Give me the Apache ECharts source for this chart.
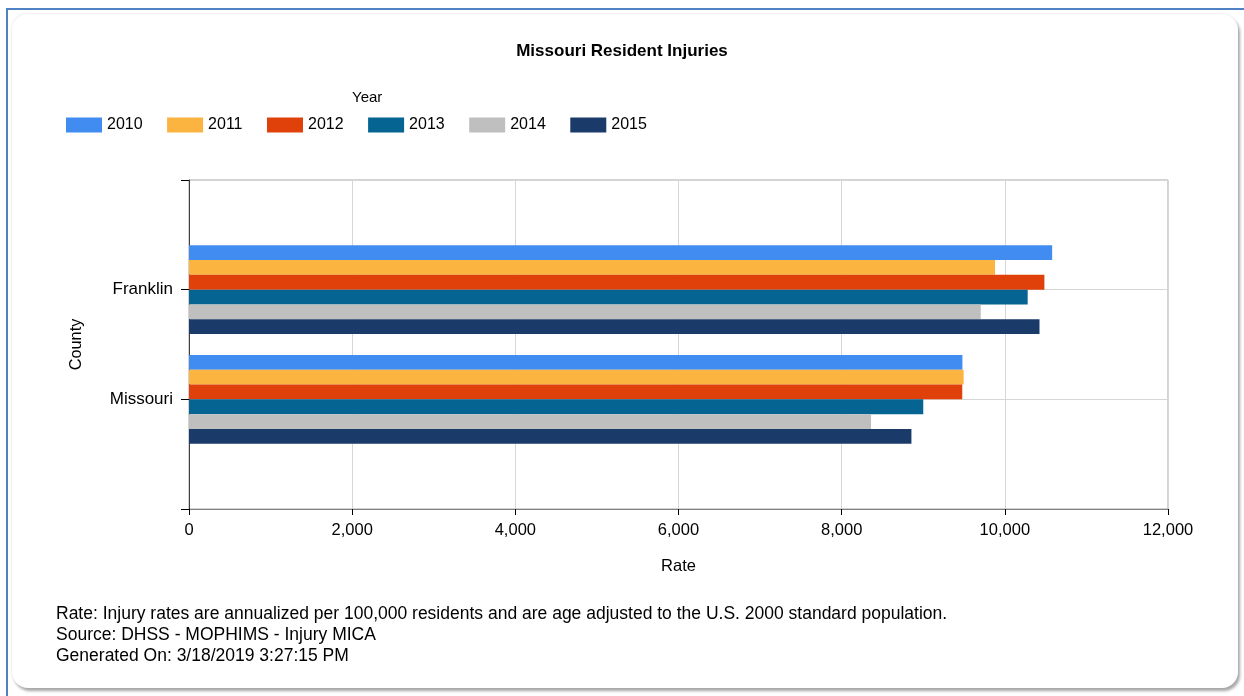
<!DOCTYPE html>
<html>
<head>
<meta charset="utf-8">
<script src="https://cdn.jsdelivr.net/npm/echarts@6/dist/echarts.min.js"></script>
<style>
  html, body { margin: 0; padding: 0; background: #fff; }
  #wrap { position: relative; width: 1244px; height: 696px; overflow: hidden; }
  /* blue page frame */
  #frame { position: absolute; left: 6px; top: 8px; right: -4px; bottom: -4px;
           border-top: 2px solid #4f81c4; border-left: 2px solid #4f81c4; }
  /* rounded white panel with soft shadow */
  #panel { position: absolute; left: 12px; top: 14px; width: 1226px; height: 674px;
           background: #fff; border-radius: 16px;
           box-shadow: 2px 3px 3px rgba(0,0,0,0.35), -1px -1px 2px rgba(0,0,0,0.06); }
  #chart { position: absolute; left: 0; top: 0; width: 1244px; height: 696px; }
</style>
</head>
<body>
<div id="wrap">
  <div id="frame"></div>
  <div id="panel"></div>
  <div id="chart"></div>
</div>
<script>
// Injury rates per 100,000 residents, age adjusted
const counties = ['Franklin', 'Missouri'];
const years = ['2010', '2011', '2012', '2013', '2014', '2015'];
const rate2010 = [10580, 9480];
const rate2011 = [9880, 9495];
const rate2012 = [10485, 9478];
const rate2013 = [10280, 9000];
const rate2014 = [9705, 8360];
const rate2015 = [10425, 8855];
const xTicks = [0, 2000, 4000, 6000, 8000, 10000, 12000];
const footnotes = [
  'Rate: Injury rates are annualized per 100,000 residents and are age adjusted to the U.S. 2000 standard population.',
  'Source: DHSS - MOPHIMS - Injury MICA',
  'Generated On: 3/18/2019 3:27:15 PM'
];

const colors = ['#418CF0', '#FCB441', '#E0400A', '#056492', '#BFBFBF', '#1A3B69'];
const seriesValues = [rate2010, rate2011, rate2012, rate2013, rate2014, rate2015];
const FONT = '"Liberation Sans", Arial, sans-serif';

// empty slots at both ends keep the counties on the inner ticks
const yCats = [''].concat(counties, ['']);

const chart = echarts.init(document.getElementById('chart'), null, { renderer: 'canvas' });

chart.setOption({
  animation: false,
  backgroundColor: 'transparent',
  color: colors,
  title: [
    { text: 'Missouri Resident Injuries', left: 'center', top: 43, padding: 0,
      textStyle: { fontFamily: FONT, fontSize: 17, fontWeight: 'bold', color: '#000' } },
    { text: 'Year', left: 352, top: 90, padding: 0,
      textStyle: { fontFamily: FONT, fontSize: 15, fontWeight: 'normal', color: '#000' } }
  ],
  legend: {
    left: 66, top: 117, padding: 0,
    itemWidth: 36, itemHeight: 15, itemGap: 24.5,
    icon: 'rect',
    data: years,
    textStyle: { fontFamily: FONT, fontSize: 16, color: '#000' }
  },
  grid: { left: 189, right: 76, top: 180, bottom: 187, show: true,
          borderColor: '#a6a6a6', borderWidth: 1, containLabel: false },
  xAxis: {
    type: 'value', min: xTicks[0], max: xTicks[xTicks.length - 1], interval: xTicks[1] - xTicks[0],
    name: 'Rate', nameLocation: 'middle', nameGap: 49,
    nameTextStyle: { fontFamily: FONT, fontSize: 16.5, color: '#000' },
    axisLine: { show: true, lineStyle: { color: '#808080', width: 1 } },
    axisTick: { show: true, length: 6, lineStyle: { color: '#000' } },
    axisLabel: { fontFamily: FONT, fontSize: 16.5, color: '#000', margin: 13,
                 formatter: v => v.toLocaleString('en-US') },
    splitLine: { show: true, lineStyle: { color: '#d6d6d6', width: 1 } }
  },
  yAxis: {
    type: 'category', data: yCats, inverse: true, boundaryGap: false,
    name: 'County', nameLocation: 'middle', nameGap: 104, nameRotate: 90,
    nameTextStyle: { fontFamily: FONT, fontSize: 16.3, color: '#000' },
    axisLine: { show: true, lineStyle: { color: '#404040', width: 1 } },
    axisTick: { show: true, length: 8, alignWithLabel: true, lineStyle: { color: '#000' } },
    axisLabel: { fontFamily: FONT, fontSize: 17, color: '#000', margin: 16, interval: 0 },
    splitLine: { show: true, lineStyle: { color: '#d6d6d6', width: 1 } }
  },
  series: years.map((y, i) => ({
    name: y,
    type: 'bar',
    barGap: 0,
    barCategoryGap: '19%',
    data: [null].concat(seriesValues[i], [null]),
    itemStyle: { color: colors[i] }
  })),
  graphic: footnotes.map((t, i) => ({
    type: 'text', left: 56, top: 605.5 + i * 21,
    style: { text: t, font: '17.5px ' + FONT, fill: '#000' }
  }))
});
</script>
</body>
</html>
